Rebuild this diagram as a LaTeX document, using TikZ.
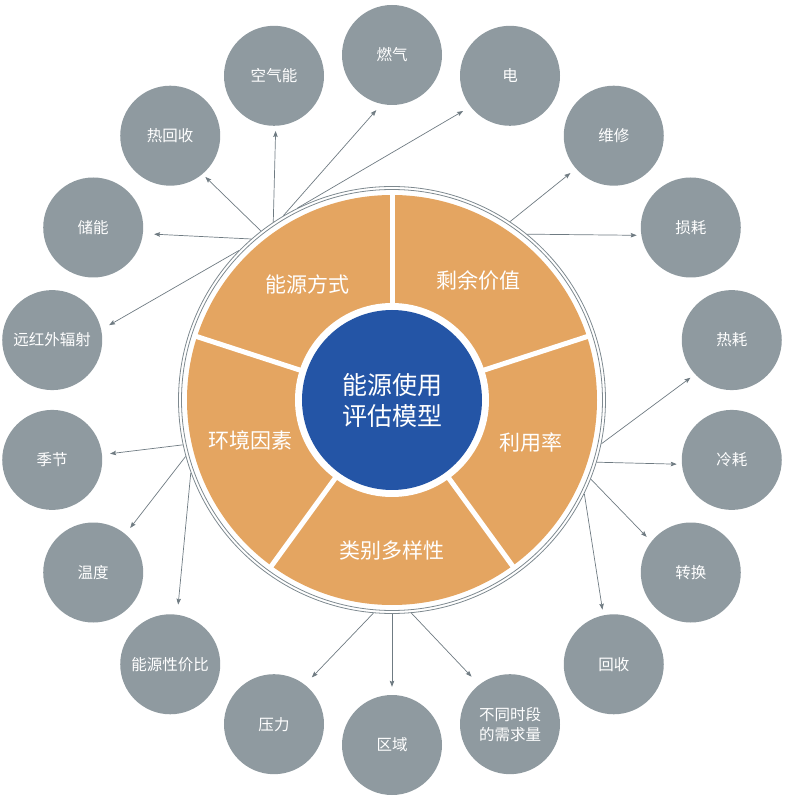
\documentclass[tikz,border=0pt]{standalone}
\usepackage{fontspec}
\setmainfont{Noto Sans CJK SC}
\usetikzlibrary{arrows.meta}
\definecolor{sectororange}{HTML}{E4A561}
\definecolor{coreblue}{HTML}{2455A6}
\definecolor{topicgrey}{HTML}{8F9AA0}
\definecolor{ringgrey}{HTML}{7E898F}
\definecolor{linkgrey}{HTML}{6F7B82}

\begin{document}
\begin{tikzpicture}[
    x=1pt, y=1pt,
    ring/.style={draw=ringgrey,line width=0.8pt},
    core/.style={circle,fill=coreblue,minimum size=180pt,inner sep=0pt,text=white,align=center,font=\fontsize{25}{31}\selectfont},
    sectorlabel/.style={text=white,font=\fontsize{21}{24}\selectfont},
    topic/.style={circle,fill=topicgrey,minimum size=100pt,inner sep=0pt,text=white,align=center,font=\fontsize{15.5}{20}\selectfont},
    link/.style={draw=linkgrey,line width=0.7pt,-{Stealth[length=6pt,width=4.5pt,inset=1pt]}}
  ]
    \useasboundingbox (-392,-402) rectangle (392,400);

    % orange wheel with white gaps
    \fill[sectororange] (0,0) circle (205);
    \foreach \a in {90,18,-54,-126,162}
      \draw[white,line width=5pt] (0,0) -- (\a:207);
    \fill[white] (0,0) circle (97);
    \node[core] (model) at (0,0) {能源使用\\评估模型};
    \draw[ring] (0,0) circle (213.5);
    \draw[ring] (0,0) circle (210.5);

    \node[sectorlabel] (fangshi) at (126:143) {能源方式};
    \node[sectorlabel] (jiazhi) at (54:148) {剩余价值};
    \node[sectorlabel] (liyong) at (-17:145) {利用率};
    \node[sectorlabel] (leibie) at (-90:151) {类别多样性};
    \node[sectorlabel] (huanjing) at (196:147) {环境因素};

    % outer topics
    \foreach \name/\txt [count=\k from 0] in {ranqi/燃气, dian/电, weixiu/维修, sunhao/损耗,
        rehao/热耗, lenghao/冷耗, zhuanhuan/转换, huishou/回收, xuqiu/{不同时段\\的需求量},
        quyu/区域, yali/压力, xingjiabi/能源性价比, wendu/温度, jijie/季节,
        fushe/远红外辐射, chuneng/储能, rehuishou/热回收, kongqi/空气能}
      \node[topic] (\name) at ({90-20*\k}:345) {\txt};

    % arrows from the ring
    \foreach \s/\t/\a/\sh in {120.5/ranqi/258/8, 116.2/dian/218/8.5, 56.5/weixiu/221/7,
        50.8/sunhao/189/4.5, -11.8/rehao/223/5.7, -16.9/lenghao/185/5,
        -21.7/zhuanhuan/142/6.5, -26/huishou/102/5.6, -84.8/xuqiu/128/11,
        -90/quyu/90/8, -95/yali/52/10, -160.1/xingjiabi/82.5/10,
        -164.7/wendu/50/7.7, -167.9/jijie/6/8, 135.7/fushe/12/9,
        131.2/chuneng/-7/11, 127.8/rehuishou/-50/4, 123.7/kongqi/-88/5} {
      \coordinate (from\t) at (\s:214);
      \draw[link,shorten >=\sh pt] (from\t) -- (\t.\a);
    }
  \end{tikzpicture}
\end{document}
